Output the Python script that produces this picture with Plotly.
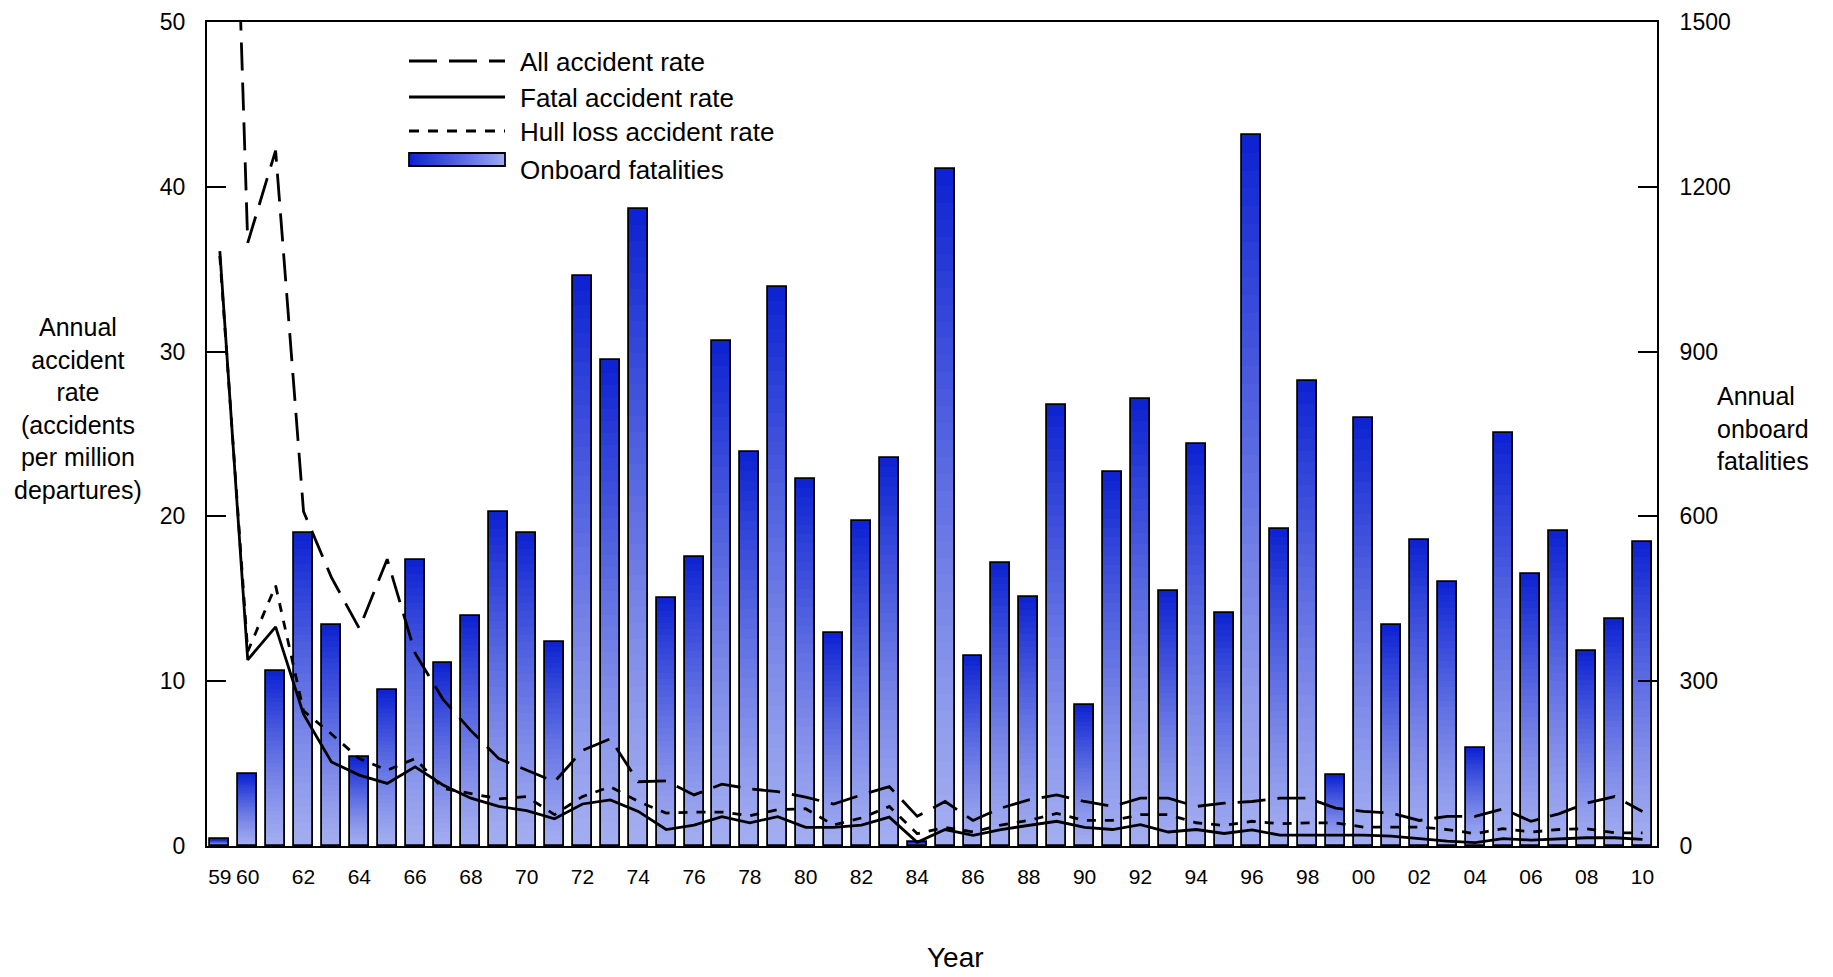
import plotly.graph_objects as go

# ---------------- data ----------------
years = list(range(1959, 2011))

onboard_fatalities = [
    12, 131, 318, 570, 403, 162, 284, 521, 333, 418,
    608, 570, 371, 1037, 884, 1159, 451, 527, 919, 718,
    1018, 668, 388, 591, 707, 7, 1232, 345, 515, 453,
    802, 257, 681, 814, 465, 731, 425, 1294, 577, 847,
    129, 779, 402, 557, 481, 178, 752, 496, 573, 355,
    413, 554,
]

all_accident_rate = [
    90.0, 36.6, 42.2, 20.3, 16.3, 13.2, 17.4, 11.7, 8.9, 7.0,
    5.3, 4.6, 3.9, 5.8, 6.5, 3.9, 3.95, 3.1, 3.75, 3.47,
    3.3, 2.97, 2.54, 3.1, 3.6, 1.8, 2.7, 1.55, 2.3, 2.8,
    3.1, 2.7, 2.4, 2.9, 2.9, 2.4, 2.6, 2.7, 2.9, 2.9,
    2.3, 2.1, 2.0, 1.55, 1.8, 1.8, 2.25, 1.5, 1.95, 2.6,
    3.0, 2.1,
]

fatal_accident_rate = [
    36.1, 11.3, 13.3, 8.0, 5.1, 4.3, 3.8, 4.8, 3.7, 2.9,
    2.4, 2.15, 1.65, 2.55, 2.8, 2.1, 1.0, 1.27, 1.78, 1.41,
    1.78, 1.13, 1.13, 1.27, 1.75, 0.22, 1.0, 0.65, 1.0, 1.27,
    1.5, 1.13, 1.0, 1.3, 0.85, 1.0, 0.76, 0.98, 0.66, 0.66,
    0.66, 0.66, 0.6, 0.45, 0.3, 0.2, 0.45, 0.36, 0.45, 0.5,
    0.5, 0.4,
]

hull_loss_rate = [
    35.8, 11.8, 15.8, 8.2, 6.8, 5.3, 4.6, 5.3, 3.5, 3.2,
    2.86, 3.0, 1.9, 3.0, 3.6, 2.7, 2.0, 2.06, 2.06, 1.84,
    2.2, 2.26, 1.27, 1.7, 2.4, 0.75, 1.13, 0.85, 1.27, 1.55,
    1.98, 1.55, 1.55, 1.9, 1.9, 1.41, 1.25, 1.5, 1.35, 1.4,
    1.4, 1.15, 1.15, 1.15, 1.0, 0.75, 1.05, 0.85, 1.0, 1.05,
    0.8, 0.8,
]

tick_years = [1959] + list(range(1960, 2011, 2))
tick_labels = ["%02d" % (y % 100) for y in tick_years]

# ---------------- styling ----------------
FONT = "Liberation Sans, Arial, sans-serif"
OFF = 8                      # default page (body) margin of the html page
W, H = 1833 - OFF, 977 - OFF  # figure size so it fits the window
# plot area in window pixels
L, R, T, B = 207, 1657, 22, 846

DARK = (12, 34, 210)
LIGHT = (163, 173, 240)


def mix(t):
    return "rgb(%d,%d,%d)" % tuple(
        round(LIGHT[k] + (DARK[k] - LIGHT[k]) * t) for k in range(3))


def px_x(p):
    return (p - L) / (R - L)


def px_y(p):
    return (B - p) / (B - T)


fig = go.Figure()

# gradient bars: stacked slices of each bar, dark at top, light at bottom
N = 40
BAR_W = 0.68
for i in range(N):
    f = (i + 0.5) / N
    seg = [v / N for v in onboard_fatalities]
    base = [v * i / N for v in onboard_fatalities]
    fig.add_trace(go.Bar(
        x=years, y=seg, base=base, width=BAR_W,
        marker=dict(color=mix(f ** 1.25), line=dict(width=0)),
        yaxis="y", showlegend=False, hoverinfo="skip",
    ))

# bar outlines
fig.add_trace(go.Bar(
    x=years, y=onboard_fatalities, width=BAR_W, name="Onboard fatalities",
    marker=dict(color="rgba(0,0,0,0)", line=dict(color="black", width=1.8)),
    yaxis="y", showlegend=False,
))

# rate lines
LW = 2.8
fig.add_trace(go.Scatter(
    x=years, y=all_accident_rate, mode="lines", name="All accident rate",
    line=dict(color="black", width=LW, dash="28px,12px"),
    yaxis="y2", showlegend=False,
))
fig.add_trace(go.Scatter(
    x=years, y=fatal_accident_rate, mode="lines", name="Fatal accident rate",
    line=dict(color="black", width=LW),
    yaxis="y2", showlegend=False,
))
fig.add_trace(go.Scatter(
    x=years, y=hull_loss_rate, mode="lines", name="Hull loss accident rate",
    line=dict(color="black", width=LW, dash="9px,9px"),
    yaxis="y2", showlegend=False,
))

# ---------------- custom legend ----------------
shapes = []
annotations = []
leg_x0, leg_x1, txt_x = 409, 505, 518
legend_rows = [
    ("All accident rate", 61, "28px,12px"),
    ("Fatal accident rate", 97, "solid"),
    ("Hull loss accident rate", 131, "10px,9px"),
]
LEG_FONT = 26
for label, yy, dash in legend_rows:
    shapes.append(dict(
        type="line", xref="paper", yref="paper",
        x0=px_x(leg_x0), x1=px_x(leg_x1), y0=px_y(yy), y1=px_y(yy),
        line=dict(color="black", width=3, dash=dash), layer="above"))
    annotations.append(dict(
        text=label, xref="paper", yref="paper", x=px_x(txt_x), y=px_y(yy + 1),
        xanchor="left", yanchor="middle", showarrow=False,
        font=dict(family=FONT, size=LEG_FONT, color="black")))

NS = 48
sw_y0, sw_y1 = 153, 166
for k in range(NS):
    xa = leg_x0 + (leg_x1 - leg_x0) * k / NS
    xb = leg_x0 + (leg_x1 - leg_x0) * (k + 1) / NS
    t = 1 - (k + 0.5) / NS
    shapes.append(dict(
        type="rect", xref="paper", yref="paper",
        x0=px_x(xa), x1=px_x(xb) + 0.0003, y0=px_y(sw_y1), y1=px_y(sw_y0),
        fillcolor=mix(t ** 0.9), line=dict(width=0), layer="above"))
shapes.append(dict(
    type="rect", xref="paper", yref="paper",
    x0=px_x(leg_x0), x1=px_x(leg_x1), y0=px_y(sw_y1), y1=px_y(sw_y0),
    fillcolor="rgba(0,0,0,0)", line=dict(color="black", width=1.8), layer="above"))
annotations.append(dict(
    text="Onboard fatalities", xref="paper", yref="paper", x=px_x(txt_x), y=px_y(170),
    xanchor="left", yanchor="middle", showarrow=False,
    font=dict(family=FONT, size=LEG_FONT, color="black")))

# axis titles
annotations.append(dict(
    text="Annual<br>accident<br>rate<br>(accidents<br>per million<br>departures)",
    xref="paper", yref="paper", x=px_x(78), y=px_y(409),
    xanchor="center", yanchor="middle", align="center", showarrow=False,
    font=dict(family=FONT, size=25, color="black")))
annotations.append(dict(
    text="Annual<br>onboard<br>fatalities",
    xref="paper", yref="paper", x=px_x(1715), y=px_y(428),
    xanchor="left", yanchor="middle", align="left", showarrow=False,
    font=dict(family=FONT, size=25, color="black")))
annotations.append(dict(
    text="Year", xref="paper", yref="paper", x=px_x(955), y=px_y(957),
    xanchor="center", yanchor="middle", showarrow=False,
    font=dict(family=FONT, size=28, color="black")))

fig.update_layout(
    width=W, height=H,
    margin=dict(l=L - OFF, r=(W + OFF) - R, t=T - OFF, b=(H + OFF) - B, pad=0,
                autoexpand=False),
    paper_bgcolor="white", plot_bgcolor="white",
    barmode="overlay", bargap=0,
    showlegend=False,
    font=dict(family=FONT, color="black"),
    xaxis=dict(
        range=[1958.54, 2010.52], tickmode="array",
        tickvals=tick_years, ticktext=tick_labels,
        ticks="", showgrid=False, zeroline=False, automargin=False,
        showline=True, linecolor="black", linewidth=2, mirror=True,
        tickfont=dict(family=FONT, size=21, color="black"),
        ticklabelstandoff=11, ticklabeloverflow="allow",
    ),
    yaxis=dict(
        range=[0, 1500], tickmode="array", tickvals=[0, 300, 600, 900, 1200, 1500],
        side="right", ticks="inside", ticklen=19, tickwidth=2, tickcolor="black",
        showgrid=False, zeroline=False, automargin=False,
        showline=True, linecolor="black", linewidth=2,
        tickfont=dict(family=FONT, size=23, color="black"),
        ticklabelstandoff=16, ticklabeloverflow="allow",
    ),
    yaxis2=dict(
        range=[0, 50], tickmode="array", tickvals=[0, 10, 20, 30, 40, 50],
        overlaying="y", side="left", anchor="x", automargin=False,
        ticks="inside", ticklen=19, tickwidth=2, tickcolor="black",
        showgrid=False, zeroline=False,
        showline=True, linecolor="black", linewidth=2,
        tickfont=dict(family=FONT, size=23, color="black"),
        ticklabelstandoff=15, ticklabeloverflow="allow",
    ),
    shapes=shapes,
    annotations=annotations,
)

fig.write_html("out.html")
